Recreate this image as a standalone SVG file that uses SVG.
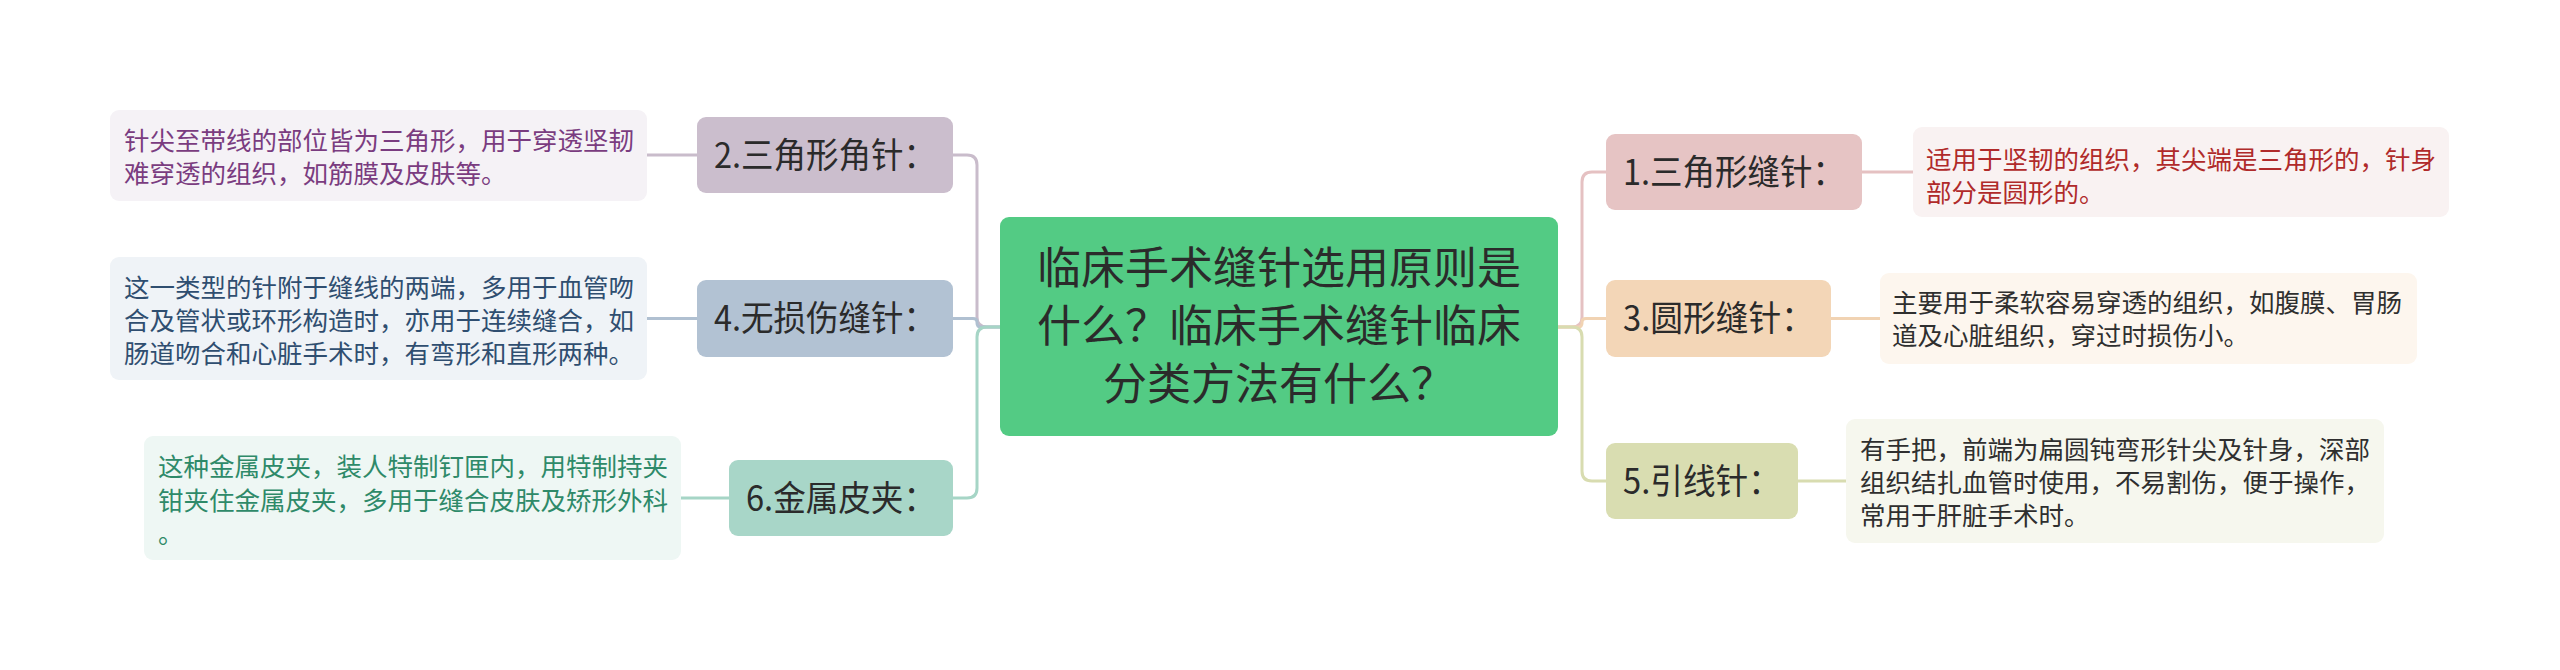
<svg xmlns="http://www.w3.org/2000/svg" width="2560" height="670" viewBox="0 0 2560 670">
<style>
text{font-family:"Noto Sans CJK SC","Noto Sans",sans-serif;}
.root-t{font-size:44px;fill:#2b2b2b;text-anchor:middle;}
.lab-t{font-size:35px;fill:#2b2b2b;}
.desc-t{font-size:25.5px;}
.conn{fill:none;stroke-width:3;stroke-linecap:round;}
</style>
<rect x="0" y="0" width="2560" height="670" fill="#ffffff"/>
<g id="connectors">
  <path class="conn" stroke="#C9BCCB" d="M1001,327 H987 Q977,327 977,317 V165 Q977,155 967,155 H953"/>
  <path class="conn" stroke="#B0C0D1" d="M1001,327 H981 Q977,327 977,323 V322 Q977,318.5 973,318.5 H953"/>
  <path class="conn" stroke="#A6D5C6" d="M1001,327 H987 Q977,327 977,337 V488 Q977,498 967,498 H953"/>
  <path class="conn" stroke="#E5C1C2" d="M1558,327 H1572 Q1582,327 1582,317 V182 Q1582,172 1592,172 H1606"/>
  <path class="conn" stroke="#F1D3B3" d="M1558,327 H1578 Q1582,327 1582,323 V322 Q1582,318.5 1586,318.5 H1606"/>
  <path class="conn" stroke="#D8DCB0" d="M1558,327 H1572 Q1582,327 1582,337 V471 Q1582,481 1592,481 H1606"/>
  <path class="conn" stroke="#C9BCCB" d="M647,155 H697"/>
  <path class="conn" stroke="#B0C0D1" d="M647,318.5 H697"/>
  <path class="conn" stroke="#A6D5C6" d="M681,498 H729"/>
  <path class="conn" stroke="#E5C1C2" d="M1862,172 H1913"/>
  <path class="conn" stroke="#F1D3B3" d="M1831,318.5 H1880"/>
  <path class="conn" stroke="#D8DCB0" d="M1798,481 H1846"/>
</g>
<g id="root">
  <rect x="1000" y="217" width="558" height="219" rx="9" fill="#53CB84"/>
  <text class="root-t" x="1279" y="284">临床手术缝针选用原则是</text>
  <text class="root-t" x="1279" y="342">什么？临床手术缝针临床</text>
  <text class="root-t" x="1279" y="400">分类方法有什么？</text>
</g>
<g id="n1">
  <rect x="1606" y="134" width="256" height="76" rx="9" fill="#E6C4C4"/>
  <text class="lab-t" x="1623" y="184.5" textLength="222" lengthAdjust="spacingAndGlyphs">1.三角形缝针：</text>
</g>
<g id="d1">
  <rect x="1913" y="127" width="536" height="90" rx="9" fill="#F9F2F2"/>
  <text class="desc-t" fill="#B02A2A"><tspan x="1926" y="169">适用于坚韧的组织，其尖端是三角形的，针身</tspan><tspan x="1926" y="202">部分是圆形的。</tspan></text>
</g>
<g id="n3">
  <rect x="1606" y="280" width="225" height="77" rx="9" fill="#F3D6B7"/>
  <text class="lab-t" x="1623" y="331" textLength="191" lengthAdjust="spacingAndGlyphs">3.圆形缝针：</text>
</g>
<g id="d3">
  <rect x="1880" y="273" width="537" height="91" rx="9" fill="#FDF6EE"/>
  <text class="desc-t" fill="#2f2f2f"><tspan x="1892" y="312">主要用于柔软容易穿透的组织，如腹膜、胃肠</tspan><tspan x="1892" y="345">道及心脏组织，穿过时损伤小。</tspan></text>
</g>
<g id="n5">
  <rect x="1606" y="443" width="192" height="76" rx="9" fill="#D9DDB1"/>
  <text class="lab-t" x="1623" y="493.5" textLength="158" lengthAdjust="spacingAndGlyphs">5.引线针：</text>
</g>
<g id="d5">
  <rect x="1846" y="419" width="538" height="124" rx="9" fill="#F6F7EE"/>
  <text class="desc-t" fill="#2f2f2f"><tspan x="1860" y="459">有手把，前端为扁圆钝弯形针尖及针身，深部</tspan><tspan x="1860" y="492">组织结扎血管时使用，不易割伤，便于操作，</tspan><tspan x="1860" y="525">常用于肝脏手术时。</tspan></text>
</g>
<g id="n2">
  <rect x="697" y="117" width="256" height="76" rx="9" fill="#CBBECD"/>
  <text class="lab-t" x="714" y="167.5" textLength="222" lengthAdjust="spacingAndGlyphs">2.三角形角针：</text>
</g>
<g id="d2">
  <rect x="110" y="110" width="537" height="91" rx="9" fill="#F5F2F6"/>
  <text class="desc-t" fill="#7A3C80"><tspan x="124" y="150">针尖至带线的部位皆为三角形，用于穿透坚韧</tspan><tspan x="124" y="183">难穿透的组织，如筋膜及皮肤等。</tspan></text>
</g>
<g id="n4">
  <rect x="697" y="280" width="256" height="77" rx="9" fill="#B2C2D3"/>
  <text class="lab-t" x="714" y="331" textLength="222" lengthAdjust="spacingAndGlyphs">4.无损伤缝针：</text>
</g>
<g id="d4">
  <rect x="110" y="257" width="537" height="123" rx="9" fill="#EFF3F7"/>
  <text class="desc-t" fill="#2F4E70"><tspan x="124" y="297">这一类型的针附于缝线的两端，多用于血管吻</tspan><tspan x="124" y="330">合及管状或环形构造时，亦用于连续缝合，如</tspan><tspan x="124" y="363">肠道吻合和心脏手术时，有弯形和直形两种。</tspan></text>
</g>
<g id="n6">
  <rect x="729" y="460" width="224" height="76" rx="9" fill="#A8D6C8"/>
  <text class="lab-t" x="746" y="510.5" textLength="190" lengthAdjust="spacingAndGlyphs">6.金属皮夹：</text>
</g>
<g id="d6">
  <rect x="144" y="436" width="537" height="124" rx="9" fill="#EEF7F4"/>
  <text class="desc-t" fill="#2E8A69"><tspan x="158" y="476">这种金属皮夹，装人特制钉匣内，用特制持夹</tspan><tspan x="158" y="510">钳夹住金属皮夹，多用于缝合皮肤及矫形外科</tspan><tspan x="158" y="543">。</tspan></text>
</g>
</svg>
